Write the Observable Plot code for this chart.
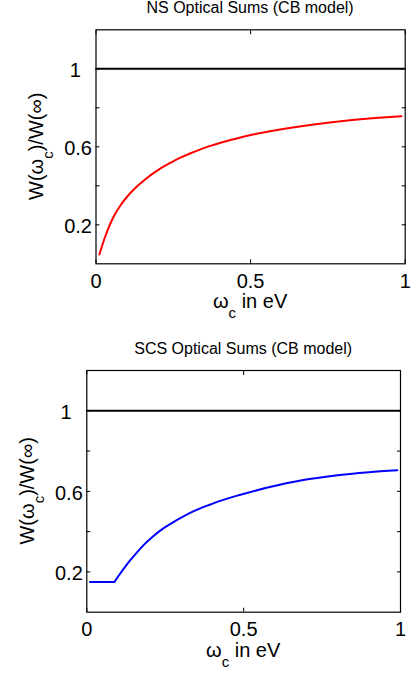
<!DOCTYPE html>
<html><head><meta charset="utf-8">
<script src="https://cdn.jsdelivr.net/npm/d3@7"></script>
<script src="https://cdn.jsdelivr.net/npm/@observablehq/plot@0.6"></script>
<style>
html,body{margin:0;padding:0;background:#fff}
body{width:411px;height:675px;overflow:hidden}
svg{display:block}
</style></head><body><div id="c"></div>
<script>
// Normal state (NS) optical sum ratio vs cutoff
const nsX = [0.011, 0.031, 0.052, 0.079, 0.106, 0.133, 0.160, 0.187, 0.214, 0.241, 0.273, 0.306, 0.338, 0.370, 0.403, 0.435, 0.467, 0.5, 0.591, 0.699, 0.807, 0.915, 0.988];
const nsY = [0.048, 0.145, 0.226, 0.299, 0.354, 0.398, 0.434, 0.466, 0.494, 0.518, 0.544, 0.567, 0.587, 0.605, 0.621, 0.635, 0.648, 0.660, 0.687, 0.713, 0.734, 0.749, 0.757];
// Superconducting state (SCS)
const scsX = [0.01, 0.088, 0.101, 0.128, 0.155, 0.181, 0.208, 0.234, 0.288, 0.341, 0.394, 0.42, 0.458, 0.49, 0.58, 0.686, 0.793, 0.899, 0.99];
const scsY = [0.15, 0.15, 0.18, 0.238, 0.288, 0.333, 0.372, 0.405, 0.458, 0.502, 0.535, 0.55, 0.569, 0.583, 0.62, 0.655, 0.679, 0.695, 0.705];
const refLevel = [1];
const xTicks = [0, 0.5, 1];
const yTicks = [0.2, 0.4, 0.6, 0.8, 1];
const yTickLabels = [0.2, 0.6, 1];
const titles = ["NS Optical Sums (CB model)", "SCS Optical Sums (CB model)"];
const xLabelParts = ["ω", "c", "\u00a0in eV"];
const yLabelParts = ["W(ω", "c", ")/W(∞)"];
const FONT = "'Liberation Sans', Arial, Helvetica, sans-serif";

function panel({xs, ys, color, flatEnd, title, height, ml, mr, mt, mb}) {
  const data = xs.map((x, i) => ({x, y: ys[i]}));
  const lines = flatEnd != null
    ? [Plot.line(data.slice(0, flatEnd + 1), {x: "x", y: "y", stroke: color, strokeWidth: 2}),
       Plot.line(data.slice(flatEnd), {x: "x", y: "y", stroke: color, strokeWidth: 2, curve: "monotone-x"})]
    : [Plot.line(data, {x: "x", y: "y", stroke: color, strokeWidth: 2, curve: "monotone-x"})];
  const plot = Plot.plot({
    width: 411, height,
    marginLeft: ml, marginRight: mr, marginTop: mt, marginBottom: mb,
    style: {fontFamily: FONT, background: "white", color: "black"},
    x: {domain: [0, 1]},
    y: {domain: [0, 1.2]},
    marks: [
      Plot.ruleY(refLevel, {stroke: "black", strokeWidth: 2}),
      ...lines,
      Plot.frame({stroke: "black", strokeWidth: 1.2}),
      Plot.axisY(yTicks, {anchor: "left", tickSize: -4, tickFormat: () => "", label: null, stroke: "black"}),
      Plot.axisY(yTicks, {anchor: "right", tickSize: -4, tickFormat: () => "", label: null, stroke: "black"}),
      Plot.axisX(xTicks, {anchor: "bottom", tickSize: -4, tickFormat: () => "", label: null, stroke: "black"}),
      Plot.axisX(xTicks, {anchor: "top", tickSize: -4, tickFormat: () => "", label: null, stroke: "black"}),
      Plot.axisY(yTickLabels, {anchor: "left", tickSize: 0, tickPadding: 4, dy: 2, fontSize: 20, fill: "black",
        tickFormat: d => d === 1 ? "1\u00a0\u00a0" : String(d), label: null}),
      Plot.axisX(xTicks, {anchor: "bottom", tickSize: 0, tickPadding: 10, fontSize: 20, fill: "black",
        tickFormat: d => String(d), label: null})
    ]
  });
  const svg = d3.select(plot);
  const [x0, x1] = plot.scale("x").range;
  const [yb, yt] = plot.scale("y").range;
  const cx = (x0 + x1) / 2, cy = (yb + yt) / 2;
  svg.append("text").attr("x", cx).attr("y", yt - 16).attr("text-anchor", "middle")
    .attr("font-size", 16).attr("font-family", FONT).attr("fill", "black").text(title);
  const xl = svg.append("text").attr("x", cx).attr("y", yb + 45).attr("text-anchor", "middle")
    .attr("font-size", 20).attr("font-family", FONT).attr("fill", "black");
  xl.append("tspan").text(xLabelParts[0]);
  xl.append("tspan").attr("dy", 10).attr("font-size", 15).text(xLabelParts[1]);
  xl.append("tspan").attr("dy", -10).text(xLabelParts[2]);
  const yl = svg.append("text").attr("transform", `translate(${x0 - 52.5},${cy}) rotate(-90)`)
    .attr("text-anchor", "middle").attr("font-size", 20).attr("font-family", FONT).attr("fill", "black");
  yl.append("tspan").text(yLabelParts[0]);
  yl.append("tspan").attr("dy", 10).attr("font-size", 15).text(yLabelParts[1]);
  yl.append("tspan").attr("dy", -10).text(yLabelParts[2]);
  return plot;
}

const c = document.getElementById("c");
c.appendChild(panel({xs: nsX, ys: nsY, color: "#ff0000", title: titles[0], height: 330, ml: 95.5, mr: 6.3, mt: 29.3, mb: 66.7}));
c.appendChild(panel({xs: scsX, ys: scsY, color: "#0000ff", flatEnd: 1, title: titles[1], height: 345, ml: 86.3, mr: 11, mt: 40, mb: 63.3}));
</script></body></html>
